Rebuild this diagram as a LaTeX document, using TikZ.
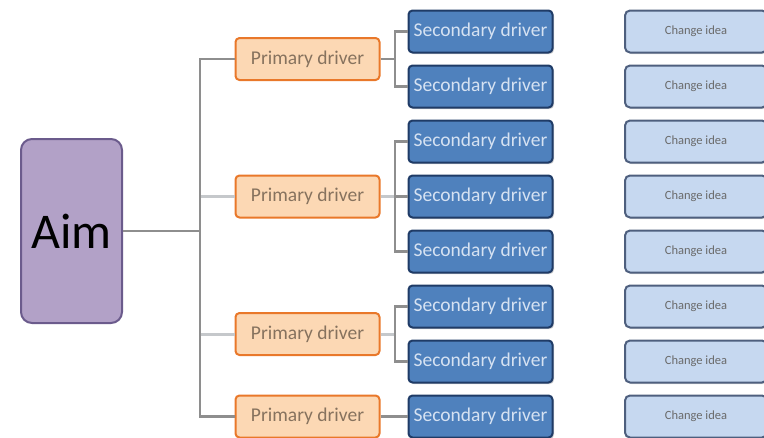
\documentclass[tikz,border=0pt]{standalone}
\usepackage{fontspec}
\setmainfont{Carlito}
\usetikzlibrary{shadows}
\definecolor{aimfill}{HTML}{B2A1C7}
\definecolor{aimdraw}{HTML}{6B5B8C}
\definecolor{pfill}{HTML}{FCD8B4}
\definecolor{pdraw}{HTML}{E9782A}
\definecolor{ptext}{HTML}{86725E}
\definecolor{sfill}{HTML}{4F81BD}
\definecolor{sdraw}{HTML}{1F3B66}
\definecolor{stext}{HTML}{D6E2F2}
\definecolor{cfill}{HTML}{C6D8F0}
\definecolor{cdraw}{HTML}{4E5F7E}
\definecolor{ctext}{HTML}{6A6A6A}
\definecolor{lined}{HTML}{8E8E8E}
\definecolor{linel}{HTML}{C5C8CB}
\tikzset{
  x=1pt, y=-1pt,
  aimbox/.style={draw=aimdraw, fill=aimfill, line width=2pt, rounded corners=11pt,
    minimum width=101pt, minimum height=184pt, inner sep=0pt,
    font=\fontsize{50}{55}\selectfont, text=black},
  pbox/.style={draw=pdraw, fill=pfill, line width=2pt, rounded corners=4pt,
    minimum width=144pt, minimum height=42pt, inner sep=0pt,
    font=\fontsize{19.5}{21}\selectfont, text=ptext},
  sbox/.style={draw=sdraw, fill=sfill, line width=2pt, rounded corners=4pt,
    minimum width=144pt, minimum height=42pt, inner sep=0pt,
    font=\fontsize{19.5}{21}\selectfont, text=stext,
    drop shadow={shadow xshift=1.5pt, shadow yshift=-1.5pt, fill=black!30, opacity=0.6}},
  cbox/.style={draw=cdraw, fill=cfill, line width=2pt, rounded corners=5pt,
    minimum width=142pt, minimum height=42pt, inner sep=0pt,
    font=\fontsize{12.5}{14}\selectfont, text=ctext,
    drop shadow={shadow xshift=1.5pt, shadow yshift=-1.5pt, fill=black!25, opacity=0.6}},
  conn/.style={draw=lined, line width=2.2pt},
  connl/.style={draw=linel, line width=3pt},
}
\begin{document}
\begin{tikzpicture}
\useasboundingbox (0,0) rectangle (764,437);
% aim
\node[aimbox] (aim) at (71.5,231) {Aim};
% primary
\node[pbox] (p1) at (307.5,59) {Primary driver};
\node[pbox] (p2) at (307.5,196.5) {Primary driver};
\node[pbox] (p3) at (307.5,334) {Primary driver};
\node[pbox] (p4) at (307.5,416.5) {Primary driver};
% secondary and change ideas
\foreach \i/\y in {1/31.5,2/86.5,3/141.5,4/196.5,5/251.5,6/306.5,7/361.5,8/416.5}{
  \node[sbox] (s\i) at (480.5,\y) {Secondary driver};
  \node[cbox] (c\i) at (696,\y) {Change idea};
}
% trunk
\coordinate (jt) at (200,231);
\coordinate (jb) at (395,0);
\draw[conn] (aim.east) -- (jt);
\draw[conn] (p1.west) -- (p1.west -| jt) -- (p4.west -| jt) -- (p4.west);
\draw[connl] (p2.west) -- ([xshift=1pt]p2.west -| jt);
\draw[connl] (p3.west) -- ([xshift=1pt]p3.west -| jt);
% brackets
\draw[conn] (p1.east) -- (p1.east -| jb);
\draw[conn] (s1.west) -- (s1.west -| jb) -- (s2.west -| jb) -- (s2.west);
\draw[connl] (p2.east) -- (p2.east -| jb);
\draw[conn] (s3.west) -- (s3.west -| jb) -- (s5.west -| jb) -- (s5.west);
\draw[conn] (s4.west) -- (s4.west -| jb);
\draw[connl] (p3.east) -- (p3.east -| jb);
\draw[conn] (s6.west) -- (s6.west -| jb) -- (s7.west -| jb) -- (s7.west);
\draw[conn] (p4.east) -- (s8.west);
\end{tikzpicture}
\end{document}
